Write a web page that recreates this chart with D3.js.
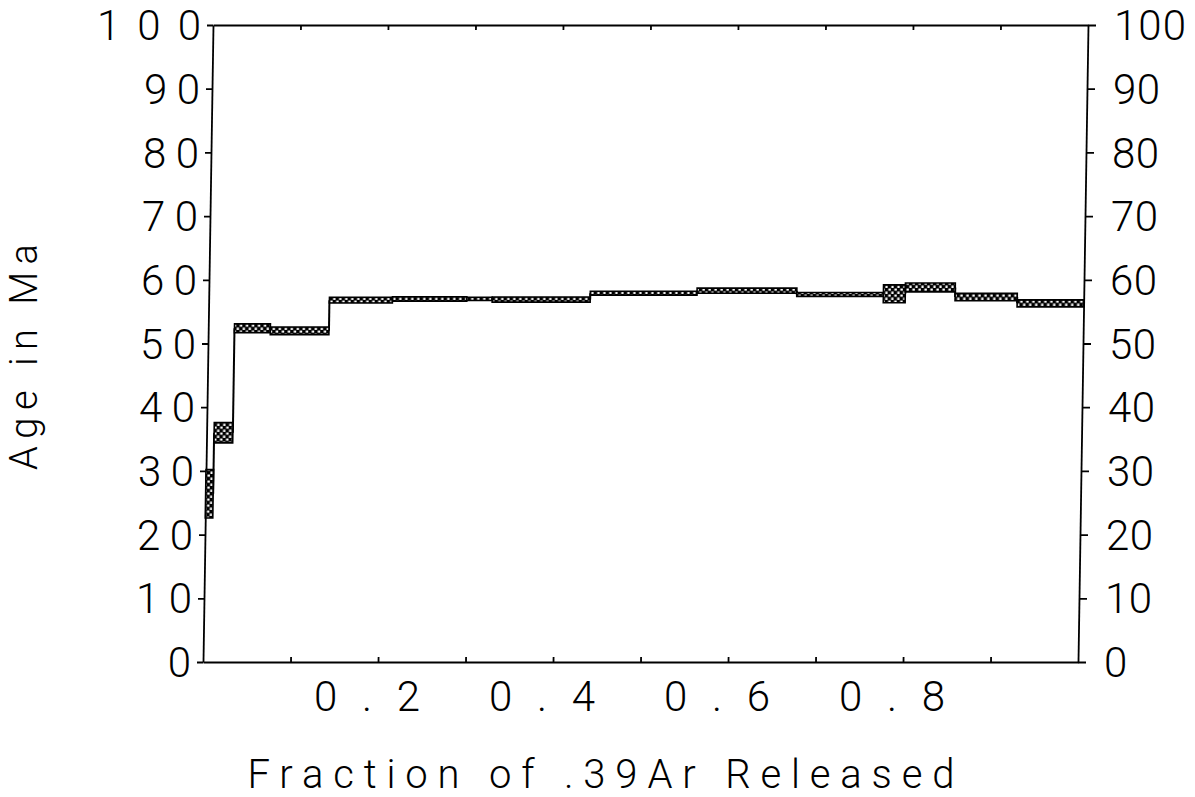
<!DOCTYPE html>
<html>
<head>
  <title>Age spectrum</title>
  <script src="https://d3js.org/d3.v7.min.js"></script>
  <style>
    body, html {
      margin: 0;
      padding: 0;
      background: #fff;
      overflow: hidden;
    }
    text {
      font-family: Roboto, "DejaVu Sans", sans-serif;
      font-weight: 300;
      fill: #000;
    }
  </style>
</head>
<body>
  <div id="chart"></div>

  <script>
    // step edges (fraction of 39Ar released) and apparent ages of each step
    const stepEdges = [0, 0.0086, 0.03, 0.071, 0.138, 0.210, 0.295, 0.324, 0.436, 0.558, 0.672, 0.771, 0.796, 0.853, 0.924, 1.0];
    const ageCenter = [26.4, 36.0, 52.4, 52.0, 56.8, 57.0, 57.0, 56.9, 57.9, 58.3, 57.7, 57.8, 58.8, 57.3, 56.3];
    const ageError  = [3.8, 1.6, 0.7, 0.6, 0.45, 0.35, 0.25, 0.4, 0.3, 0.4, 0.3, 1.4, 0.7, 0.6, 0.55];

    const ageTicks = [0, 10, 20, 30, 40, 50, 60, 70, 80, 90, 100];
    const fracLabels = ["0.2", "0.4", "0.6", "0.8"];
    const fracLabelValues = [0.2, 0.4, 0.6, 0.8];
    const fracMinor = [0.1, 0.2, 0.3, 0.4, 0.5, 0.6, 0.7, 0.8, 0.9];

    const steps = ageCenter.map((a, i) => ({
      x0: stepEdges[i], x1: stepEdges[i + 1], lo: a - ageError[i], hi: a + ageError[i], mid: a
    }));

    const width = 1195, height = 797;
    const svg = d3.select("#chart").append("svg")
      .attr("width", width)
      .attr("height", height);

    const x = d3.scaleLinear().domain([0, 1]).range([203, 1078]);
    const y = d3.scaleLinear().domain([0, 100]).range([662, 25]);

    // the scanned plot leans a little to the right at the top
    const lean = 10 / 637;
    const shift = v => lean * (y.range()[0] - v);
    const skewDeg = -Math.atan(lean) * 180 / Math.PI;

    // hatch pattern for the error boxes
    const defs = svg.append("defs");
    const pat = defs.append("pattern")
      .attr("id", "hatch")
      .attr("patternUnits", "userSpaceOnUse")
      .attr("width", 6).attr("height", 6);
    pat.append("rect").attr("width", 6).attr("height", 6).attr("fill", "#000");
    pat.append("rect").attr("x", 0.5).attr("y", 0.5).attr("width", 2.5).attr("height", 2.2).attr("fill", "#fff");
    pat.append("rect").attr("x", 3.5).attr("y", 3.5).attr("width", 2.2).attr("height", 2.5).attr("fill", "#fff");

    const plot = svg.append("g")
      .attr("transform", `translate(${shift(0)},0) skewX(${skewDeg})`);

    // frame + ticks
    const axisStyle = g => g.selectAll("path, line").attr("stroke", "#000").attr("stroke-width", 1.8);

    plot.append("g")
      .attr("transform", `translate(${x(0)},0)`)
      .call(d3.axisLeft(y).tickValues(ageTicks).tickSize(6).tickSizeOuter(0).tickFormat(""))
      .call(axisStyle);

    plot.append("g")
      .attr("transform", `translate(${x(1)},0)`)
      .call(d3.axisRight(y).tickValues(ageTicks).tickSize(8).tickSizeOuter(0).tickFormat(""))
      .call(axisStyle);

    plot.append("g")
      .attr("transform", `translate(0,${y(0)})`)
      .call(d3.axisBottom(x).tickValues(fracMinor).tickSize(-5).tickSizeOuter(0).tickFormat(""))
      .call(axisStyle);

    plot.append("g")
      .attr("transform", `translate(0,${y(100)})`)
      .call(d3.axisTop(x).tickValues(fracMinor).tickSize(-5).tickSizeOuter(0).tickFormat(""))
      .call(axisStyle);

    // connectors between steps
    const links = steps.slice(1).map((s, i) => ({ at: s.x0, a: steps[i].mid, b: s.mid }));
    plot.append("g")
      .selectAll("line")
      .data(links)
      .join("line")
      .attr("x1", d => x(d.at)).attr("x2", d => x(d.at))
      .attr("y1", d => y(d.a)).attr("y2", d => y(d.b))
      .attr("stroke", "#000")
      .attr("stroke-width", 2);

    // error boxes
    plot.append("g")
      .selectAll("rect")
      .data(steps)
      .join("rect")
      .attr("x", d => x(d.x0))
      .attr("y", d => y(d.hi))
      .attr("width", d => x(d.x1) - x(d.x0))
      .attr("height", d => y(d.lo) - y(d.hi))
      .attr("fill", "url(#hatch)")
      .attr("stroke", "#000")
      .attr("stroke-width", 1.6);

    // age labels, left and right
    svg.append("g")
      .selectAll("text")
      .data(ageTicks)
      .join("text")
      .attr("x", d => x(0) + shift(y(d)) - 12)
      .attr("y", d => y(d))
      .attr("dy", "0.36em")
      .attr("text-anchor", "end")
      .attr("font-size", 42)
      .each(function(d) {
        const s = String(d);
        if (s.length > 1) d3.select(this).attr("textLength", s.length === 3 ? 104 : 56).attr("lengthAdjust", "spacing");
      })
      .text(d => d);

    svg.append("g")
      .selectAll("text")
      .data(ageTicks)
      .join("text")
      .attr("x", d => x(1) + shift(y(d)) + 26)
      .attr("y", d => y(d))
      .attr("dy", "0.36em")
      .attr("font-size", 42)
      .each(function(d) {
        const s = String(d);
        if (s.length > 1) d3.select(this).attr("textLength", s.length === 3 ? 72 : 47).attr("lengthAdjust", "spacing");
      })
      .text(d => d);

    // fraction labels
    svg.append("g")
      .selectAll("text")
      .data(fracLabelValues)
      .join("text")
      .attr("x", d => x(d) - 11)
      .attr("y", 696)
      .attr("dy", "0.36em")
      .attr("text-anchor", "middle")
      .attr("font-size", 42)
      .attr("textLength", 106)
      .attr("lengthAdjust", "spacing")
      .text((d, i) => fracLabels[i]);

    // axis titles
    svg.append("text")
      .attr("x", 601)
      .attr("y", 788)
      .attr("text-anchor", "middle")
      .attr("font-size", 40)
      .attr("textLength", 707)
      .attr("lengthAdjust", "spacing")
      .text("Fraction of .39Ar Released");

    svg.append("text")
      .attr("transform", "translate(37,357) rotate(-90)")
      .attr("text-anchor", "middle")
      .attr("font-size", 38)
      .attr("textLength", 226)
      .attr("lengthAdjust", "spacing")
      .text("Age in Ma");
  </script>
</body>
</html>
